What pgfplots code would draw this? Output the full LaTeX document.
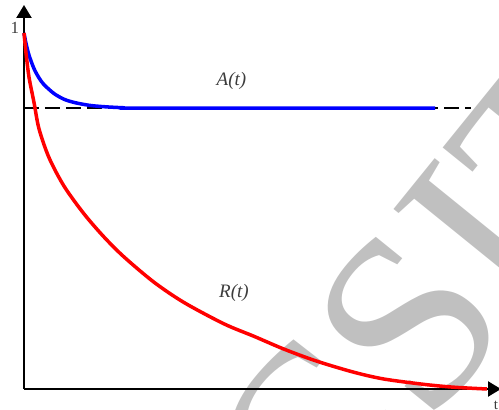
\documentclass[border=0pt]{standalone}
\usepackage{pgfplots}
\pgfplotsset{compat=1.18}
\usepackage{fontspec}
\setmainfont{Liberation Serif}
\usetikzlibrary{arrows.meta}
\definecolor{wmgray}{RGB}{192,192,192}
\definecolor{txtgray}{RGB}{60,60,60}

\begin{document}
\begin{tikzpicture}
% large watermark lettering behind the plot
\node[rotate=51, anchor=base west, text=wmgray, inner sep=0pt,
      font=\fontsize{250}{250}\selectfont] at (323pt,-147pt) {CSIT};
\begin{axis}[
  at={(24pt,21pt)}, anchor=south west,
  scale only axis, width=477pt, height=384pt,
  xmin=0, xmax=4.77, ymin=0, ymax=1.0787,
  axis lines=left,
  axis line style={line width=2.3pt, -{Triangle[length=13pt,width=15pt]}},
  xtick=\empty, ytick=\empty,
  clip=false,
]
% steady-state availability level
\addplot[black, line width=1.6pt, dash pattern=on 15pt off 6pt]
  coordinates {(0,0.789) (4.47,0.789)};
% availability A(t)
\addplot[blue, line width=3.5pt, smooth] coordinates {
  (0,1.0) (0.02,0.971) (0.05,0.938) (0.10,0.900) (0.15,0.874) (0.20,0.855)
  (0.30,0.830) (0.40,0.814) (0.50,0.805) (0.65,0.797) (0.80,0.793)
  (1.00,0.790) (1.20,0.789) (4.11,0.789)
};
% reliability R(t)
\addplot[red, line width=3.5pt, smooth] coordinates {
  (0,1.0) (0.02,0.944) (0.05,0.876) (0.10,0.805) (0.15,0.731) (0.25,0.650)
  (0.40,0.570) (0.60,0.492) (0.80,0.427) (1.00,0.371) (1.30,0.300)
  (1.60,0.243) (2.00,0.183) (2.30,0.148) (2.60,0.112) (2.93,0.078)
  (3.30,0.047) (3.60,0.028) (4.00,0.013) (4.30,0.005) (4.63,0.0)
};
\node[txtgray, font=\fontsize{19}{22}\selectfont\itshape] at (axis cs:2.075,0.864) {A(t)};
\node[txtgray, font=\fontsize{19}{22}\selectfont\itshape] at (axis cs:2.10,0.27) {R(t)};
\node[txtgray, font=\fontsize{17}{19}\selectfont] at (axis cs:-0.09,1.014) {1};
\node[txtgray, font=\fontsize{15}{17}\selectfont] at (axis cs:4.72,-0.045) {t};
\end{axis}
\pgfresetboundingbox
\useasboundingbox (0pt,0pt) rectangle (499pt,410pt);
\end{tikzpicture}
\end{document}
